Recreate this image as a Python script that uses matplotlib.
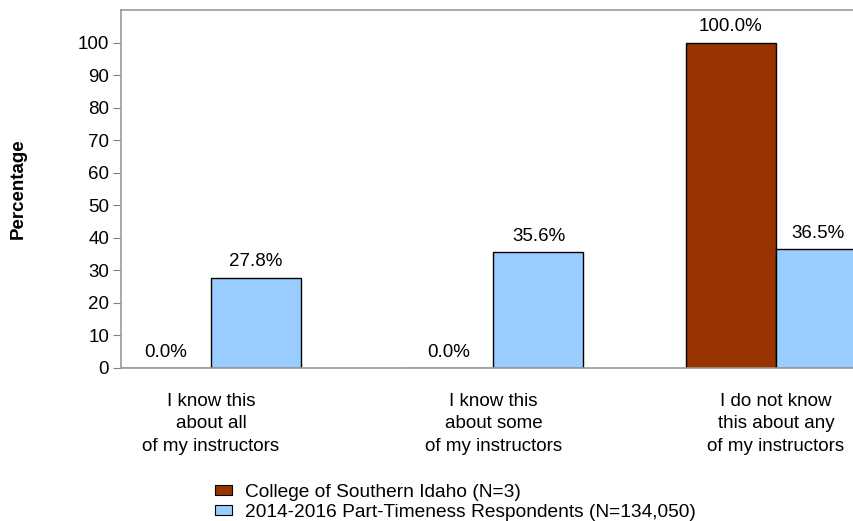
import matplotlib
matplotlib.use("Agg")
import matplotlib.pyplot as plt
import numpy as np
from matplotlib.patches import Patch

categories = ["I know this\nabout all\nof my instructors",
              "I know this\nabout some\nof my instructors",
              "I do not know\nthis about any\nof my instructors"]
college = [0.0, 0.0, 100.0]
national = [27.8, 35.6, 36.5]
series_names = ["College of Southern Idaho (N=3)",
                "2014-2016 Part-Timeness Respondents (N=134,050)"]
yticks = [0, 10, 20, 30, 40, 50, 60, 70, 80, 90, 100]

plt.rcParams['font.family'] = ['Liberation Sans', 'DejaVu Sans']
FS = 13.5

fig = plt.figure(figsize=(8.54, 5.21), dpi=100)
ax = fig.add_axes([121/854, 1-368/521, (866-121)/854, (368-10)/521])

w = 90/282.5
x = np.arange(len(categories))
c1, c2 = '#993300', '#99CCFF'
ax.bar(x - w/2, college, w, color=c1, edgecolor='black', linewidth=1)
ax.bar(x + w/2, national, w, color=c2, edgecolor='black', linewidth=1)

for xi, v in zip(x - w/2, college):
    ax.text(xi, v + 2.3, f"{v:.1f}%", ha='center', va='bottom', fontsize=FS)
for i, (xi, v) in enumerate(zip(x + w/2, national)):
    xx = xi - (0.01 if i == 2 else 0)
    ax.text(xx, v + 2.3, f"{v:.1f}%", ha='center', va='bottom', fontsize=FS)

ax.set_xlim(-w, 2 + w)
ax.set_ylim(0, 110)
ax.set_yticks(yticks)
ax.set_yticklabels([str(t) for t in yticks], fontsize=FS)
ax.set_xticks(x)
ax.set_xticklabels(categories, fontsize=FS, linespacing=1.42)
ax.tick_params(axis='x', length=0, pad=18)
ax.tick_params(axis='y', length=5.5, color='#808080', pad=3)
for s in ax.spines.values():
    s.set_color('#999999')
    s.set_linewidth(1.2)

fig.text(18/854, 1-189/521, "Percentage", rotation=90, ha='center', va='center',
         fontsize=FS, fontweight='bold')

handles = [Patch(facecolor=c1, edgecolor='black', linewidth=0.8),
           Patch(facecolor=c2, edgecolor='black', linewidth=0.8)]
fig.legend(handles, series_names, loc='upper left', bbox_to_anchor=(215/854, 1-484/521),
           frameon=False, fontsize=13.8, handlelength=0.89, handleheight=0.4,
           handletextpad=0.68, labelspacing=0.15, borderaxespad=0, borderpad=0)

fig.savefig("out.png", dpi=100)
